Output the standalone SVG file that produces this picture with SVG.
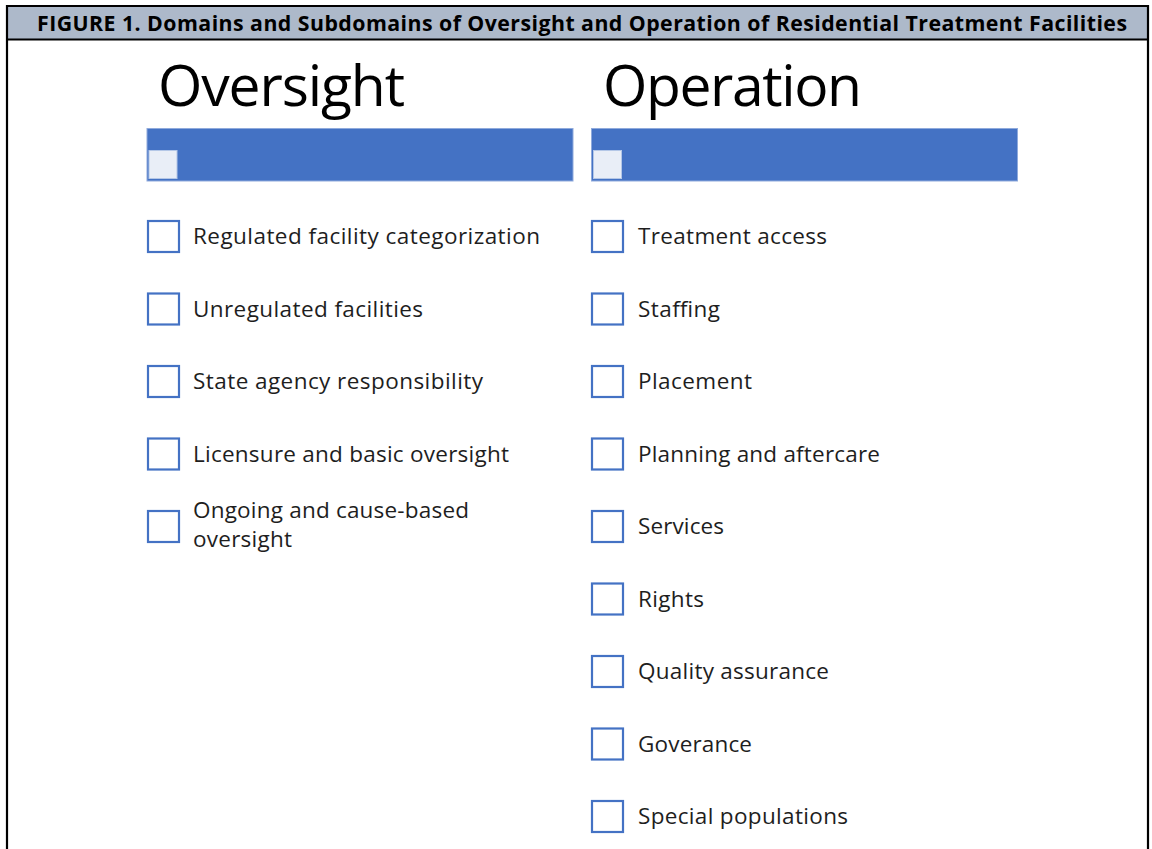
<svg xmlns="http://www.w3.org/2000/svg" width="1152" height="849" viewBox="0 0 1152 849">
  <style>
    .frame { fill: none; stroke: #000; stroke-width: 2.2; }
    .band { fill: #ADB9CA; }
    .title { font-family: "Open Sans", "Liberation Sans", Arial, sans-serif; font-weight: bold; font-size: 21.3px; fill: #000; }
    .domain { font-family: "Open Sans", "Liberation Sans", Arial, sans-serif; font-size: 57px; fill: #000; }
    .bar { fill: #4472C4; stroke: #8FAADC; stroke-width: 1; }
    .barbox { fill: #E9EEF7; stroke: #B4C7E7; stroke-width: 1; }
    .box { fill: #fff; stroke: #4472C4; stroke-width: 2.2; }
    .item { font-family: "Open Sans", "Liberation Sans", Arial, sans-serif; font-size: 22.5px; fill: #1e1e1e; }
  </style>

  <!-- page background and figure frame -->
  <rect x="0" y="0" width="1152" height="849" fill="#fff"/>
  <rect class="band" x="7" y="6" width="1141" height="33"/>
  <line x1="7" y1="39.5" x2="1148" y2="39.5" stroke="#000" stroke-width="2"/>
  <path class="frame" d="M7 860 V6 H1148 V860"/>
  <text class="title" x="37" y="31" textLength="1090">FIGURE 1. Domains and Subdomains of Oversight and Operation of Residential Treatment Facilities</text>

  <!-- Oversight column -->
  <g id="oversight-header">
    <text class="domain" x="158" y="106" textLength="247">Oversight</text>
    <rect class="bar" x="147" y="128.5" width="426" height="52.5"/>
    <rect class="barbox" x="149" y="150.5" width="28" height="28"/>
  </g>
  <g id="oversight-1">
    <rect class="box" x="148" y="221" width="31" height="31"/>
    <text class="item" x="193" y="244" textLength="347">Regulated facility categorization</text>
  </g>
  <g id="oversight-2">
    <rect class="box" x="148" y="293.5" width="31" height="31"/>
    <text class="item" x="193" y="316.5" textLength="230">Unregulated facilities</text>
  </g>
  <g id="oversight-3">
    <rect class="box" x="148" y="366" width="31" height="31"/>
    <text class="item" x="193" y="389" textLength="290">State agency responsibility</text>
  </g>
  <g id="oversight-4">
    <rect class="box" x="148" y="438.5" width="31" height="31"/>
    <text class="item" x="193" y="461.5" textLength="316">Licensure and basic oversight</text>
  </g>
  <g id="oversight-5">
    <rect class="box" x="148" y="511" width="31" height="31"/>
    <text class="item" x="193" y="518" textLength="276">Ongoing and cause-based</text>
    <text class="item" x="193" y="547" textLength="99">oversight</text>
  </g>

  <!-- Operation column -->
  <g id="operation-header">
    <text class="domain" x="603" y="106" textLength="259">Operation</text>
    <rect class="bar" x="591.5" y="128.5" width="426" height="52.5"/>
    <rect class="barbox" x="593.5" y="150.5" width="28" height="28"/>
  </g>
  <g id="operation-1">
    <rect class="box" x="592" y="221" width="31" height="31"/>
    <text class="item" x="638" y="244" textLength="189">Treatment access</text>
  </g>
  <g id="operation-2">
    <rect class="box" x="592" y="293.5" width="31" height="31"/>
    <text class="item" x="638" y="316.5" textLength="82">Staffing</text>
  </g>
  <g id="operation-3">
    <rect class="box" x="592" y="366" width="31" height="31"/>
    <text class="item" x="638" y="389" textLength="114">Placement</text>
  </g>
  <g id="operation-4">
    <rect class="box" x="592" y="438.5" width="31" height="31"/>
    <text class="item" x="638" y="461.5" textLength="242">Planning and aftercare</text>
  </g>
  <g id="operation-5">
    <rect class="box" x="592" y="511" width="31" height="31"/>
    <text class="item" x="638" y="534" textLength="86">Services</text>
  </g>
  <g id="operation-6">
    <rect class="box" x="592" y="583.5" width="31" height="31"/>
    <text class="item" x="638" y="606.5" textLength="66">Rights</text>
  </g>
  <g id="operation-7">
    <rect class="box" x="592" y="656" width="31" height="31"/>
    <text class="item" x="638" y="679" textLength="191">Quality assurance</text>
  </g>
  <g id="operation-8">
    <rect class="box" x="592" y="728.5" width="31" height="31"/>
    <text class="item" x="638" y="751.5" textLength="114">Goverance</text>
  </g>
  <g id="operation-9">
    <rect class="box" x="592" y="801" width="31" height="31"/>
    <text class="item" x="638" y="824" textLength="210">Special populations</text>
  </g>

  <!-- no connectors in this figure -->
  <g id="connectors"/>
</svg>
